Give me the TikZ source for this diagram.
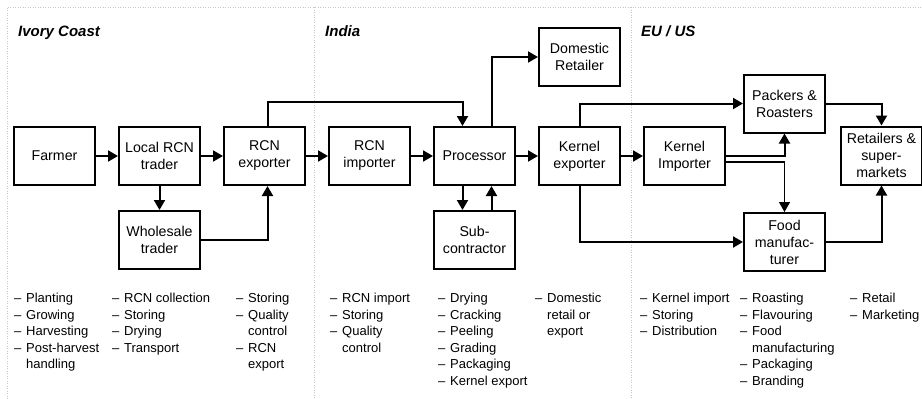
\documentclass[tikz,border=0pt]{standalone}
\usepackage{fontspec}
\setmainfont{Liberation Sans}
\usetikzlibrary{arrows.meta,positioning}
\newcommand{\task}[1]{\makebox[12pt][l]{\textendash}#1}
\newcommand{\taskcont}[1]{\hspace*{12pt}#1}

\begin{document}
\begin{tikzpicture}[x=1pt,y=-1pt,node distance=22pt,
  stage/.style={draw,line width=2pt,align=center,minimum width=81pt,minimum height=58pt,inner sep=2pt,font=\fontsize{14.2}{17}\selectfont},
  flow/.style={-{Triangle[length=10pt,width=11pt]},line width=2pt},
  region/.style={anchor=base west,inner sep=0pt,font=\fontsize{15}{18}\selectfont\bfseries\itshape},
  tasks/.style={anchor=north west,align=left,inner sep=0pt,font=\fontsize{13}{16.5}\selectfont},
  divider/.style={gray!45,line width=0.6pt,dash pattern=on 1pt off 1.5pt}]
\useasboundingbox (0,0) rectangle (922,399);
% frame and country columns
\draw[divider] (7,399) -- (7,7) -- (922,7);
\draw[divider] (314,7) -- (314,399);
\draw[divider] (631,7) -- (631,399);
\node[region] (ci) at (18,36) {Ivory Coast};
\node[region] (in) at (325,36) {India};
\node[region] (eu) at (641,36) {EU / US};
% chain
\node[stage] (farmer) at (54.5,156) {Farmer};
\node[stage,right=of farmer] (local) {Local RCN\\ trader};
\node[stage,right=of local] (rcnexp) {RCN\\ exporter};
\node[stage,right=of rcnexp] (rcnimp) {RCN\\ importer};
\node[stage,right=of rcnimp] (proc) {Processor};
\node[stage,right=of proc] (kexp) {Kernel\\ exporter};
\node[stage,right=of kexp] (kimp) {Kernel\\ Importer};
\node[stage,below=24pt of local] (whole) {Wholesale\\ trader};
\node[stage,below=24pt of proc] (sub) {Sub-\\ contractor};
\node[stage,above=39pt of kexp] (dom) {Domestic\\ Retailer};
\node[stage] (pack) at (784.5,103.5) {Packers \&\\ Roasters};
\node[stage] (food) at (784.5,242) {Food\\ manufac-\\ turer};
\node[stage] (ret) at (881.5,155.5) {Retailers \&\\ super-\\ markets};
\draw[flow] (farmer) -- (local);
\draw[flow] (local) -- (rcnexp);
\draw[flow] (rcnexp) -- (rcnimp);
\draw[flow] (rcnimp) -- (proc);
\draw[flow] (proc) -- (kexp);
\draw[flow] (kexp) -- (kimp);
\draw[flow] (local) -- (whole);
\draw[flow] (whole.east) -| ([xshift=3pt]rcnexp.south);
\draw[flow] ([xshift=3pt]rcnexp.north) -- ++(0,-24) -| ([xshift=-12pt]proc.north);
\draw[flow] ([xshift=17pt]proc.north) |- (dom.west);
\draw[flow] ([xshift=-12pt]proc.south) -- ([xshift=-12pt]sub.north);
\draw[flow] ([xshift=17pt]sub.north) -- ([xshift=17pt]proc.south);
\draw[flow] (kexp.north) |- (pack.west);
\draw[flow] (kexp.south) |- (food.west);
\draw[flow] (kimp.east) -| (pack.south);
\draw[flow,line width=1.3pt] ([yshift=-6pt]kimp.east) -| (food.north);
\draw[flow] (pack.east) -| (ret.north);
\draw[flow] (food.east) -| (ret.south);
% activities
\node[tasks] (t1) at (14,293) {\task{Planting}\\ \task{Growing}\\ \task{Harvesting}\\ \task{Post-harvest}\\ \taskcont{handling}};
\node[tasks] (t2) at (112,293) {\task{RCN collection}\\ \task{Storing}\\ \task{Drying}\\ \task{Transport}};
\node[tasks] (t3) at (236,293) {\task{Storing}\\ \task{Quality}\\ \taskcont{control}\\ \task{RCN}\\ \taskcont{export}};
\node[tasks] (t4) at (330,293) {\task{RCN import}\\ \task{Storing}\\ \task{Quality}\\ \taskcont{control}};
\node[tasks] (t5) at (438,293) {\task{Drying}\\ \task{Cracking}\\ \task{Peeling}\\ \task{Grading}\\ \task{Packaging}\\ \task{Kernel export}};
\node[tasks] (t6) at (535,293) {\task{Domestic}\\ \taskcont{retail or}\\ \taskcont{export}};
\node[tasks] (t7) at (640,293) {\task{Kernel import}\\ \task{Storing}\\ \task{Distribution}};
\node[tasks] (t8) at (740,293) {\task{Roasting}\\ \task{Flavouring}\\ \task{Food}\\ \taskcont{manufacturing}\\ \task{Packaging}\\ \task{Branding}};
\node[tasks] (t9) at (850,293) {\task{Retail}\\ \task{Marketing}};
\end{tikzpicture}
\end{document}
